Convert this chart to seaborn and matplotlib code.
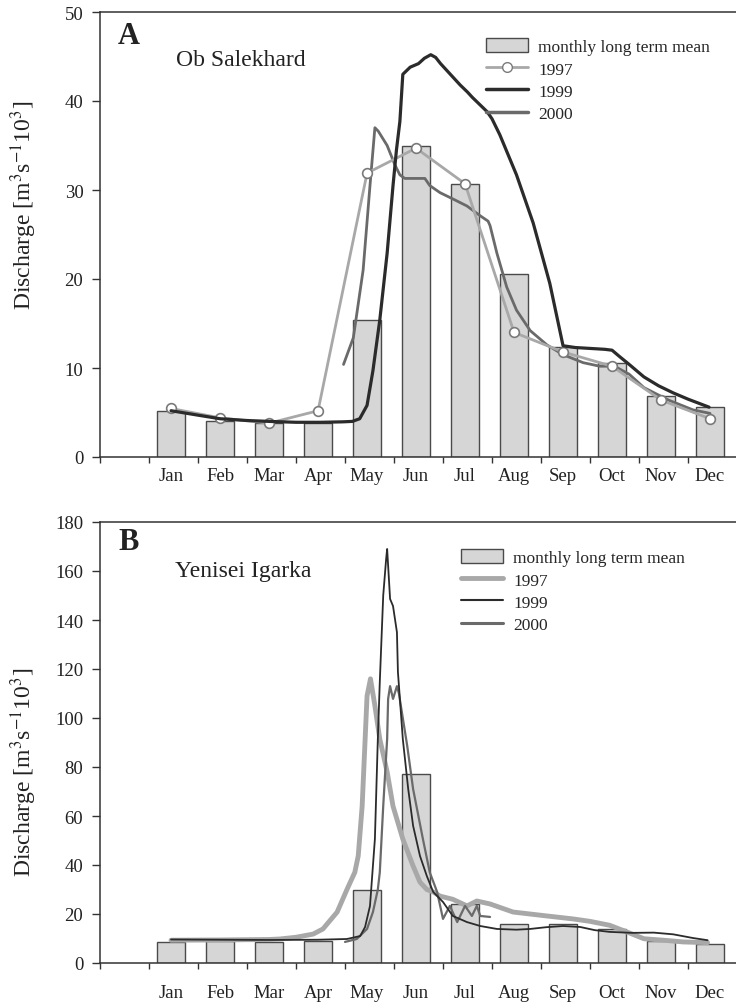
import numpy as np
import pandas as pd
import matplotlib
matplotlib.use("Agg")
import matplotlib.pyplot as plt
import seaborn as sns
from matplotlib.patches import Patch
from matplotlib.lines import Line2D

# ---------------- data (x in month units: Jan spans 0..1) ----------------
months = ["Jan", "Feb", "Mar", "Apr", "May", "Jun", "Jul", "Aug", "Sep", "Oct", "Nov", "Dec"]
month_centers = [0.45, 1.45, 2.45, 3.45, 4.45, 5.45, 6.45, 7.45, 8.45, 9.45, 10.45, 11.45]

# Panel A: Ob Salekhard
ob_mean = [5.2, 4.1, 3.8, 3.8, 15.4, 34.9, 30.7, 20.6, 12.4, 10.6, 6.8, 5.6]
ob_1997 = [5.45, 4.4, 3.8, 5.2, 31.9, 34.7, 30.7, 14.0, 11.8, 10.2, 6.4, 4.3]
ob_1999_x = [0.45, 1.0, 1.45, 2.0, 2.45, 3.0, 3.5, 3.95, 4.15, 4.3, 4.45, 4.57, 4.71, 4.86, 4.98,
             5.05, 5.12, 5.18, 5.33, 5.5, 5.62, 5.75, 5.85, 5.95, 6.05, 6.2, 6.35, 6.5, 6.6, 6.75,
             6.9, 7.0, 7.16, 7.5, 7.84, 8.18, 8.45, 8.7, 9.0, 9.3, 9.45, 9.6, 9.8, 10.1, 10.4,
             10.7, 11.0, 11.43]
ob_1999_y = [5.2, 4.7, 4.3, 4.1, 4.0, 3.9, 3.9, 3.95, 4.0, 4.3, 5.8, 9.7, 15.4, 22.9, 30.5,
             34.5, 37.7, 43.0, 43.8, 44.2, 44.8, 45.2, 44.9, 44.2, 43.6, 42.7, 41.8, 41.0, 40.4, 39.6,
             38.8, 38.0, 36.2, 31.7, 26.3, 19.5, 12.5, 12.3, 12.2, 12.1, 12.0, 11.3, 10.4, 9.0, 8.0,
             7.2, 6.5, 5.6]
ob_2000_x = [3.97, 4.17, 4.37, 4.51, 4.61, 4.68, 4.86, 5.02, 5.12, 5.22, 5.39, 5.63, 5.73, 5.94,
             6.2, 6.49, 6.76, 6.92, 6.96, 7.1, 7.3, 7.5, 7.78, 8.12, 8.45, 8.86, 9.2, 9.5, 9.8,
             10.1, 10.6, 11.1, 11.45]
ob_2000_y = [10.4, 13.4, 21.0, 30.5, 37.0, 36.6, 35.0, 32.8, 31.7, 31.3, 31.3, 31.3, 30.5, 29.7,
             29.0, 28.2, 27.1, 26.5, 26.0, 22.9, 19.1, 16.5, 14.2, 12.6, 11.5, 10.6, 10.2, 10.2, 9.3,
             7.8, 6.4, 5.3, 4.9]

# Panel B: Yenisei Igarka
ye_mean = [8.6, 8.8, 8.6, 9.0, 29.9, 77.1, 24.1, 15.9, 15.8, 13.8, 9.0, 7.9]
ye_1997_x = [0.45, 1.45, 2.45, 2.67, 3.0, 3.35, 3.55, 3.84, 4.04, 4.2, 4.27, 4.35, 4.41, 4.45,
             4.52, 4.61, 4.71, 4.86, 4.98, 5.18, 5.39, 5.53, 5.67, 5.8, 5.94, 6.2, 6.49, 6.69,
             6.96, 7.43, 8.12, 8.65, 9.0, 9.4, 9.75, 10.1, 10.5, 10.9, 11.4]
ye_1997_y = [9.3, 9.4, 9.6, 9.8, 10.5, 11.8, 13.9, 20.8, 30.0, 37.0, 43.7, 64.0, 91.0, 109.0,
             116.0, 105.0, 91.4, 78.0, 64.0, 50.6, 39.6, 33.0, 30.0, 29.0, 27.3, 26.0, 23.3, 25.3,
             24.1, 20.8, 19.2, 18.0, 17.0, 15.4, 12.7, 9.9, 9.3, 8.6, 8.3]
ye_1999_x = [0.45, 1.45, 2.45, 3.45, 4.04, 4.31, 4.41, 4.51, 4.61, 4.67, 4.71, 4.78, 4.84, 4.86,
             4.92, 4.98, 5.06, 5.08, 5.18, 5.29, 5.39, 5.53, 5.67, 5.8, 6.0, 6.2, 6.49, 6.76,
             7.1, 7.5, 7.78, 8.1, 8.45, 8.8, 9.1, 9.4, 9.86, 10.3, 10.7, 11.1, 11.4]
ye_1999_y = [9.6, 9.5, 9.4, 9.5, 9.8, 11.0, 14.7, 23.3, 50.6, 91.4, 114.7, 150.0, 165.0, 169.0,
             148.6, 145.7, 135.0, 118.8, 91.4, 71.0, 56.0, 43.7, 35.5, 29.0, 24.9, 19.2, 16.7, 15.1,
             13.9, 13.6, 13.9, 14.6, 15.1, 14.7, 13.4, 12.7, 12.3, 12.4, 11.7, 10.2, 9.3]
ye_2000_x = [4.0, 4.24, 4.45, 4.57, 4.67, 4.71, 4.78, 4.86, 4.88, 4.92, 4.98, 5.06, 5.1, 5.27,
             5.39, 5.59, 5.73, 5.88, 6.0, 6.14, 6.29, 6.45, 6.59, 6.69, 6.76, 6.96]
ye_2000_y = [8.6, 9.8, 13.9, 20.8, 30.0, 37.0, 64.0, 91.4, 107.8, 113.0, 107.8, 113.0, 110.0, 88.6,
             71.0, 50.6, 37.0, 29.0, 18.0, 23.3, 16.7, 23.3, 19.2, 23.3, 19.2, 18.8]

# ---------------- styling ----------------
sns.set_theme(style="ticks")
plt.rcParams["font.family"] = ["Liberation Serif", "DejaVu Serif"]
plt.rcParams["mathtext.fontset"] = "stix"

W, H = 736, 1004
fig = plt.figure(figsize=(W / 100, H / 100), dpi=100)
fig.patch.set_facecolor("white")

def fx(px):
    return px / W

def fy(py):
    return 1 - py / H

axA = fig.add_axes([fx(100), fy(458), fx(737) - fx(100), fy(13) - fy(458)])
axB = fig.add_axes([fx(100), fy(964), fx(737) - fx(100), fy(523) - fy(964)])

BAR_FACE = "#d6d6d6"
BAR_EDGE = "#4a4a4a"
C97 = "#a8a8a8"
C99 = "#2b2b2b"
C00 = "#6a6a6a"


def style_axis(ax, ymax, ystep, xpad):
    ax.set_xlim(-1, 12)
    ax.set_ylim(0, ymax)
    ax.set_yticks(np.arange(0, ymax + 1, ystep))
    ax.set_xticks(np.arange(-1, 12))
    ax.set_xticklabels([])
    ax.set_xticks(month_centers, minor=True)
    ax.set_xticklabels(months, minor=True)
    ax.tick_params(axis="x", which="major", direction="out", length=4, width=1, color="#333333")
    ax.tick_params(axis="x", which="minor", length=0, pad=xpad, labelsize=13.5, labelcolor="#222222")
    ax.tick_params(axis="y", direction="out", length=6, width=1, color="#333333",
                   labelsize=13.5, labelcolor="#222222", pad=6)
    for s in ["left", "bottom", "top"]:
        ax.spines[s].set_visible(True)
        ax.spines[s].set_color("#333333")
        ax.spines[s].set_linewidth(1.1)
    ax.spines["right"].set_visible(False)
    ax.set_xlabel("")
    ax.set_ylabel("")
    ax.set_facecolor("white")


# ---- Panel A ----
dfA = pd.DataFrame({"x": month_centers, "y": ob_mean})
sns.barplot(data=dfA, x="x", y="y", native_scale=True, width=0.56, color=BAR_FACE,
            saturation=1, edgecolor=BAR_EDGE, linewidth=1.0, ax=axA, zorder=1)
sns.lineplot(x=month_centers, y=ob_1997, ax=axA, color=C97, lw=2.0, marker="o", markersize=7,
             markerfacecolor="white", markeredgecolor="#7a7a7a", markeredgewidth=1.2, zorder=4)
sns.lineplot(x=ob_2000_x, y=ob_2000_y, ax=axA, color=C00, lw=2.0, zorder=3)
sns.lineplot(x=ob_1999_x, y=ob_1999_y, ax=axA, color=C99, lw=2.3, zorder=5)
style_axis(axA, 50, 10, 7)

handlesA = [Patch(facecolor=BAR_FACE, edgecolor=BAR_EDGE, linewidth=1.0),
            Line2D([], [], color=C97, lw=2.0, marker="o", markersize=7, markerfacecolor="white",
                   markeredgecolor="#7a7a7a"),
            Line2D([], [], color=C99, lw=2.5),
            Line2D([], [], color=C00, lw=2.5)]
axA.legend(handlesA, ["monthly long term mean", "1997", "1999", "2000"], loc="upper left",
           bbox_to_anchor=(fx(486), fy(39)), bbox_transform=fig.transFigure, frameon=False,
           fontsize=12.5, handlelength=2.4, handleheight=0.9, labelspacing=0.3, handletextpad=0.6,
           borderpad=0, borderaxespad=0)

# ---- Panel B ----
dfB = pd.DataFrame({"x": month_centers, "y": ye_mean})
sns.barplot(data=dfB, x="x", y="y", native_scale=True, width=0.56, color=BAR_FACE,
            saturation=1, edgecolor=BAR_EDGE, linewidth=1.0, ax=axB, zorder=1)
sns.lineplot(x=ye_1997_x, y=ye_1997_y, ax=axB, color=C97, lw=3.5, zorder=3)
sns.lineplot(x=ye_2000_x, y=ye_2000_y, ax=axB, color=C00, lw=1.6, zorder=4)
sns.lineplot(x=ye_1999_x, y=ye_1999_y, ax=axB, color=C99, lw=1.3, zorder=5)
style_axis(axB, 180, 20, 15)

handlesB = [Patch(facecolor=BAR_FACE, edgecolor=BAR_EDGE, linewidth=1.0),
            Line2D([], [], color=C97, lw=3.5),
            Line2D([], [], color=C99, lw=1.5),
            Line2D([], [], color=C00, lw=2.2)]
axB.legend(handlesB, ["monthly long term mean", "1997", "1999", "2000"], loc="upper left",
           bbox_to_anchor=(fx(461), fy(550)), bbox_transform=fig.transFigure, frameon=False,
           fontsize=12.5, handlelength=2.4, handleheight=0.9, labelspacing=0.3, handletextpad=0.6,
           borderpad=0, borderaxespad=0)

# ---- annotations ----
fig.text(fx(118), fy(37), "A", fontsize=22, fontweight="bold", va="center", ha="left", color="#222222")
fig.text(fx(176), fy(61), "Ob Salekhard", fontsize=17, va="center", ha="left", color="#222222")
fig.text(fx(118), fy(543), "B", fontsize=22, fontweight="bold", va="center", ha="left", color="#222222")
fig.text(fx(175), fy(571), "Yenisei Igarka", fontsize=17, va="center", ha="left", color="#222222")

ylab = r"Discharge [m$^{3}$s$^{-1}$10$^{3}$]"
fig.text(fx(24), fy(205), ylab, rotation=90, fontsize=17, va="center", ha="center", color="#222222")
fig.text(fx(24), fy(772), ylab, rotation=90, fontsize=17, va="center", ha="center", color="#222222")

fig.savefig("out.png", dpi=100, facecolor="white")
